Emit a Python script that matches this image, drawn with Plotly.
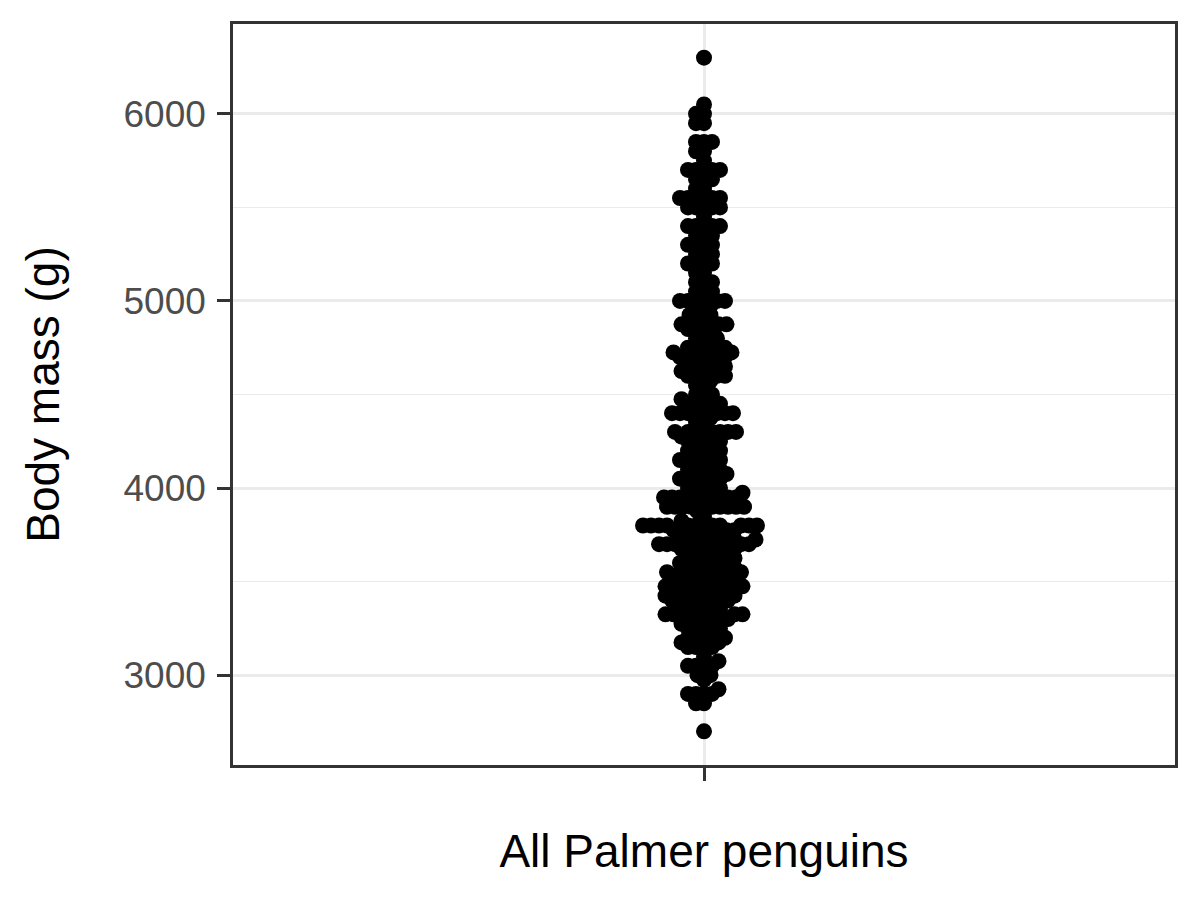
import numpy as np
import plotly.graph_objects as go

# Body mass (g) of Palmer penguins, by species (missing values dropped)
adelie = [3750, 3800, 3250, 3450, 3650, 3625, 4675, 3475, 4250, 3300, 3700, 3200, 3800, 4400, 3700, 3450, 4500, 3325, 4200,
          3400, 3600, 3800, 3950, 3800, 3800, 3550, 3200, 3150, 3950, 3250, 3900, 3300, 3900, 3325, 4150, 3950, 3550, 3300, 4650,
          3150, 3900, 3100, 4400, 3000, 4600, 3425, 2975, 3450, 4150, 3500, 4300, 3450, 4050, 2900, 3700, 3550, 3800, 2850, 3750,
          3150, 4400, 3600, 4050, 2850, 3950, 3350, 4100, 3050, 4450, 3600, 3900, 3550, 4150, 3700, 4250, 3700, 3900, 3550, 4000,
          3200, 4700, 3800, 4200, 3350, 3550, 3800, 3500, 3950, 3600, 3550, 4300, 3400, 4450, 3300, 4300, 3700, 4350, 2900, 4100,
          3725, 4725, 3075, 4250, 2925, 3550, 3750, 3900, 3175, 4775, 3825, 4600, 3200, 4275, 3900, 4075, 2900, 3775, 3350, 3325,
          3150, 3500, 3450, 3875, 3050, 4000, 3275, 4300, 3050, 4000, 3325, 3500, 3500, 4475, 3425, 3900, 3175, 3975, 3400, 4250,
          3400, 3475, 3050, 3725, 3000, 3650, 4250, 3475, 3450, 3750, 3700, 4000]
gentoo = [4500, 5700, 4450, 5700, 5400, 4550, 4800, 5200, 4400, 5150, 4650, 5550, 4650, 5850, 4200, 5850, 4150, 6300, 4800, 5350,
          5700, 5000, 4400, 5050, 5000, 5100, 4100, 5650, 4600, 5550, 5250, 4700, 5050, 6050, 5150, 5400, 4950, 5250, 4350, 5350,
          3950, 5700, 4300, 4750, 5550, 4900, 4200, 5400, 5100, 5300, 4850, 5300, 4400, 5000, 4900, 5050, 4300, 5000, 4450, 5550,
          4200, 5300, 4400, 5650, 4700, 5700, 4650, 5800, 4700, 5550, 4750, 5000, 5100, 5200, 4700, 5800, 4600, 6000, 4750, 5950,
          4625, 5450, 4725, 5350, 4750, 5600, 4600, 5300, 4875, 5550, 4950, 5400, 4750, 5650, 4850, 5200, 4925, 4875, 4625, 5250,
          4850, 5600, 4975, 5500, 4725, 5500, 4700, 5500, 4575, 5500, 5000, 5950, 4650, 5500, 4375, 5850, 4875, 6000, 4925, 4850,
          5750, 5200, 5400]
chinstrap = [3500, 3900, 3650, 3525, 3725, 3950, 3250, 3750, 4150, 3700, 3800, 3775, 3700, 4050, 3575, 4050, 3300, 3700, 3450, 4400,
             3600, 3400, 2900, 3800, 3300, 4150, 3400, 3800, 3700, 4550, 3200, 4300, 3350, 4100, 3600, 3900, 3850, 4800, 2700, 4500,
             3950, 3650, 3550, 3500, 3675, 4450, 3400, 4300, 3250, 3675, 3325, 3950, 3600, 4050, 3350, 3450, 3250, 4050, 3800, 3525,
             3950, 3650, 3650, 4000, 3400, 3775, 4100, 3775]

category_label = "All Palmer penguins"
y_title = "Body mass (g)"
y_ticks = [3000, 4000, 5000, 6000]

mass = np.array(adelie + gentoo + chinstrap, dtype=float)

# ---- layout geometry (pixels) ----
W, H = 1184, 884
ML, MR, MT, MB = 225, 17, 16, 127
PW, PH = W - ML - MR, H - MT - MB
ymin, ymax = mass.min(), mass.max()
pad = 0.05 * (ymax - ymin)
yr = [ymin - pad, ymax + pad]
xr = [0.4, 1.6]
px_per_g = PH / (yr[1] - yr[0])
xunits_per_px = (xr[1] - xr[0]) / PW

# ---- beeswarm (swarm method, ascending priority) in pixel space ----
D = 8.0  # swarm spacing in px
ypix = mass * px_per_g / D
order = np.argsort(ypix, kind="stable")
offs = np.zeros(len(mass))
placed_y, placed_x = [], []
for k, i in enumerate(order):
    yi = ypix[i]
    if k > 0:
        py = np.array(placed_y)
        pxx = np.array(placed_x)
        wh = (yi - py) < 1
        if wh.any():
            py = py[wh]
            pxx = pxx[wh]
            srt = np.argsort(np.abs(pxx), kind="stable")
            py = py[srt]
            pxx = pxx[srt]
            off = np.sqrt(1 - (yi - py) ** 2)
            cand = np.concatenate([[0.0], pxx - off, pxx + off])
            bad = np.array([np.any(((yi - py) ** 2 + (c - pxx) ** 2) < 0.999) for c in cand])
            cand[bad] = np.inf
            offs[i] = cand[np.argmin(np.abs(cand))]
    placed_y.append(yi)
    placed_x.append(offs[i])

xpos = 1 + offs * D * xunits_per_px

fig = go.Figure()
fig.add_trace(go.Scatter(
    x=xpos, y=mass, mode="markers",
    marker=dict(color="black", size=16, line=dict(width=0)),
    hoverinfo="y", showlegend=False,
))

font = "Liberation Sans, Arial, sans-serif"
fig.update_layout(
    width=W, height=H,
    margin=dict(l=ML, r=MR, t=MT, b=MB),
    paper_bgcolor="white", plot_bgcolor="white",
    font=dict(family=font, color="black"),
    xaxis=dict(
        range=xr, tickvals=[1], ticktext=[""],
        showgrid=True, gridcolor="#EBEBEB", gridwidth=2.5,
        ticks="outside", ticklen=13, tickwidth=2.5, tickcolor="#333333",
        showline=True, linecolor="#333333", linewidth=2.5, mirror=True,
        zeroline=False, automargin=False,
        title=dict(text=category_label, font=dict(size=46, color="black"), standoff=53),
    ),
    yaxis=dict(
        range=yr, tickvals=y_ticks,
        tickfont=dict(size=37, color="#4D4D4D"),
        showgrid=True, gridcolor="#EBEBEB", gridwidth=2.5,
        minor=dict(dtick=500, tick0=0, showgrid=True, gridcolor="#EBEBEB", gridwidth=1.3, ticks=""),
        ticks="outside", ticklen=13, tickwidth=2.5, tickcolor="#333333",
        showline=True, linecolor="#333333", linewidth=2.5, mirror=True,
        zeroline=False, ticklabelstandoff=4, automargin=False,
        title=dict(text=y_title, font=dict(size=46, color="black"), standoff=50),
    ),
)

fig.write_html("out.html")
